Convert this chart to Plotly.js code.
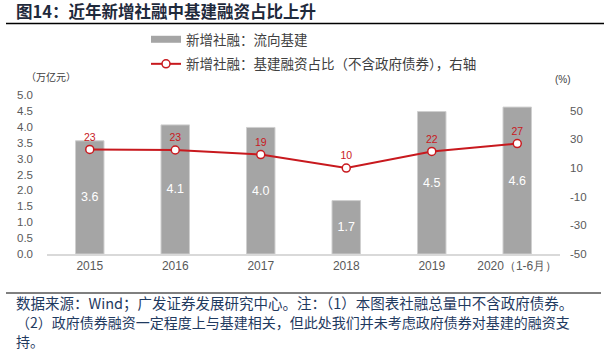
<!DOCTYPE html>
<html>
<head>
<meta charset="utf-8">
<script src="https://cdn.plot.ly/plotly-3.0.1.min.js"></script>
<style>html,body{margin:0;padding:0;background:#fff;}#chart{width:606px;height:352px;}</style>
</head>
<body>
<div id="chart"></div>
<script>
// ---- data ----
const years = ['2015', '2016', '2017', '2018', '2019', '2020（1-6月）'];
const infraFinancing = [3.56, 4.06, 3.98, 1.68, 4.48, 4.62];   // 万亿元
const infraShare = [23, 22.6, 19.4, 10, 21.6, 27.1];           // %
const leftTicks = [0, 0.5, 1, 1.5, 2, 2.5, 3, 3.5, 4, 4.5, 5];
const rightTicks = [-50, -30, -10, 10, 30, 50];
const rightTickLabels = ['-50', '-30', '-10', '10', '30', '50'];
const barName = '新增社融：流向基建';
const lineName = '新增社融：基建融资占比（不含政府债券），右轴';
const footerLines = [
  '数据来源：Wind；广发证券发展研究中心。注：（1）本图表社融总量中不含政府债券。',
  '（2）政府债券融资一定程度上与基建相关，但此处我们并未考虑政府债券对基建的融资支',
  '持。'
];

// ---- geometry helpers ----
const W = 606, H = 352;
const M = {l: 47, r: 46, t: 95, b: 98, autoexpand: false};
const PW = W - M.l - M.r, PH = H - M.t - M.b;
const px = x => (x - M.l) / PW;
const py = y => (H - M.b - y) / PH;

const CJK = '"Noto Sans CJK SC", "Noto Sans", sans-serif';
const SANS = '"Liberation Sans", Arial, sans-serif';
const GRAY_TXT = '#595959';
const RED = '#c8191e';
const BAR = '#a5a5a5';
const NAVY = '#1f3a5f';

const data = [
  { // legend proxy for bars (wide swatch)
    type: 'scatter', mode: 'lines', x: [null], y: [null],
    name: barName, line: {color: BAR, width: 7}, hoverinfo: 'skip',
    legendrank: 1, legendgroup: 'g1'
  },
  {
    type: 'bar', x: years, y: infraFinancing, name: barName, showlegend: false,
    legendgroup: 'g1',
    marker: {color: BAR, line: {color: '#cfcfcf', width: 1}},
    texttemplate: '%{y:.1f}', textposition: 'inside', insidetextanchor: 'middle',
    textangle: 0, constraintext: 'none',
    textfont: {color: '#ffffff', size: 12.5, family: SANS}
  },
  {
    type: 'scatter', mode: 'lines+markers+text', x: years, y: infraShare,
    yaxis: 'y2', name: lineName, legendrank: 2, legendgroup: 'g2',
    line: {color: RED, width: 2},
    marker: {symbol: 'circle', size: 8, color: '#ffffff', line: {color: RED, width: 1.5}},
    texttemplate: '%{y:.0f}', textposition: 'top center',
    textfont: {color: RED, size: 10.5, family: SANS}
  }
];

const footerSizes = [14.5, 14, 14];
const footerY = [302.5, 321.5, 341];
const footerAnn = footerLines.map((t, i) => ({
  xref: 'paper', yref: 'paper', x: px(14), y: py(footerY[i]),
  xanchor: 'left', yanchor: 'middle', align: 'left', text: t, showarrow: false,
  font: {family: CJK, size: footerSizes[i], color: NAVY}
}));

const layout = {
  width: W, height: H,
  margin: M,
  paper_bgcolor: '#ffffff', plot_bgcolor: '#ffffff',
  showlegend: true,
  bargap: 0.667,
  title: {
    text: '图14：近年新增社融中基建融资占比上升',
    x: 16 / W, xref: 'container', xanchor: 'left',
    y: 1 - 12.5 / H, yref: 'container', yanchor: 'middle',
    font: {family: CJK, size: 16.5, color: '#1f2a3c', weight: 'bold'}
  },
  legend: {
    x: px(146), xanchor: 'left', y: py(24), yanchor: 'top',
    bgcolor: 'rgba(0,0,0,0)', borderwidth: 0,
    font: {family: CJK, size: 13.5, color: '#404040'},
    traceorder: 'grouped', tracegroupgap: 4
  },
  xaxis: {
    type: 'category', showgrid: false, zeroline: false,
    showline: true, linecolor: '#d9d9d9', linewidth: 1.5,
    ticks: '', tickfont: {family: SANS, size: 12, color: GRAY_TXT},
    fixedrange: true
  },
  yaxis: {
    range: [0, 5], tickvals: leftTicks, tickformat: '.1f',
    showgrid: false, zeroline: false, showline: false, ticks: '',
    ticklabelstandoff: 13,
    tickfont: {family: SANS, size: 11.5, color: GRAY_TXT}
  },
  yaxis2: {
    overlaying: 'y', side: 'right', range: [-50, 61],
    tickvals: rightTicks, ticktext: rightTickLabels,
    showgrid: false, zeroline: false, showline: false, ticks: '',
    ticklabelstandoff: 9,
    tickfont: {family: SANS, size: 11.5, color: GRAY_TXT}
  },
  shapes: [
    {type: 'line', xref: 'paper', yref: 'paper', x0: px(6), x1: px(604), y0: py(23.5), y1: py(23.5),
     line: {color: '#000000', width: 1.5}},
    {type: 'line', xref: 'paper', yref: 'paper', x0: px(6), x1: px(601), y0: py(293), y1: py(293),
     line: {color: '#000000', width: 1}}
  ],
  annotations: [
    {xref: 'paper', yref: 'paper', x: px(24), y: py(76), xanchor: 'left', yanchor: 'middle',
     text: '（万亿元）', showarrow: false, font: {family: CJK, size: 10, color: '#404040'}},
    {xref: 'paper', yref: 'paper', x: px(563), y: py(79), xanchor: 'center', yanchor: 'middle',
     text: '(%)', showarrow: false, font: {family: SANS, size: 10, color: '#404040'}}
  ].concat(footerAnn)
};

Plotly.newPlot('chart', data, layout, {displayModeBar: false, staticPlot: true});
</script>
</body>
</html>
